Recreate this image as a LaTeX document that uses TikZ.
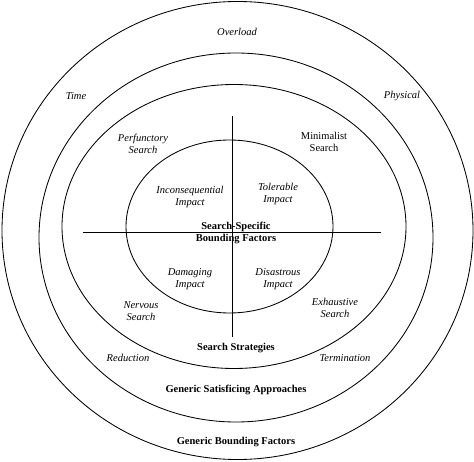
\documentclass[tikz,border=0pt]{standalone}
\usepackage{fontspec}
\setmainfont{Liberation Serif}
\begin{document}
\begin{tikzpicture}[x=1pt,y=-1pt,
  ring/.style={draw=black,line width=0.85pt},
  axis/.style={draw=black,line width=0.85pt},
  lab/.style={font=\fontsize{10.5}{12}\selectfont\itshape,align=center,inner sep=0pt},
  uplab/.style={font=\fontsize{10.5}{12}\selectfont,align=center,inner sep=0pt},
  bold/.style={font=\fontsize{10.5}{12.5}\selectfont\bfseries,align=center,inner sep=0pt}]
\useasboundingbox (0,0) rectangle (474,462);
\draw[ring] (237.5,230.5) ellipse [x radius=235.5, y radius=229];
\draw[ring] (236,237.5) ellipse [x radius=197, y radius=184.5];
\draw[ring] (234,226.5) ellipse [x radius=172, y radius=142];
\draw[ring] (229.5,226.5) ellipse [x radius=103.5, y radius=86.5];
\coordinate (hl) at (83,232.5);
\coordinate (hr) at (381,232.5);
\coordinate (vt) at (232,116);
\coordinate (vb) at (232,337);
\draw[axis] (hl) -- (hr);
\draw[axis] (vt) -- (vb);
\node[lab] (overload) at (237,32) {Overload};
\node[lab] (time) at (76,96) {Time};
\node[lab] (physical) at (402,96) {Physical};
\node[lab] (perf) at (143,144) {Perfunctory\\Search};
\node[uplab] (mini) at (324,142) {Minimalist\\Search};
\node[lab] (incon) at (190,197) {Inconsequential\\Impact};
\node[lab] (toler) at (278,194) {Tolerable\\Impact};
\node[bold] (ssbf) at (236,233) {Search-Specific\\Bounding Factors};
\node[lab] (dam) at (190,279) {Damaging\\Impact};
\node[lab] (dis) at (278,279) {Disastrous\\Impact};
\node[lab] (nerv) at (141,311) {Nervous\\Search};
\node[lab] (exh) at (335,308) {Exhaustive\\Search};
\node[bold] (ss) at (236,348) {Search Strategies};
\node[lab] (red) at (128,358) {Reduction};
\node[lab] (term) at (345,358) {Termination};
\node[bold] (gsa) at (236,390) {Generic Satisficing Approaches};
\node[bold] (gbf) at (236,442) {Generic Bounding Factors};
\end{tikzpicture}
\end{document}
